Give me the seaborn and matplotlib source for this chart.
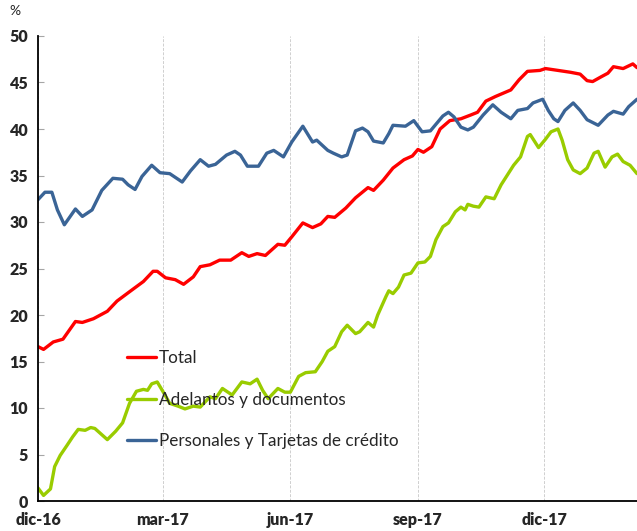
import pandas as pd
import numpy as np
import matplotlib
matplotlib.use("Agg")
import matplotlib.pyplot as plt
import seaborn as sns

# Series: days since 01-dic-2016 and values (%)
start = pd.Timestamp("2016-12-01")

total_days = [0, 4, 11, 18, 27, 32, 40, 50, 57, 66, 76, 83, 86, 92, 99, 105, 112, 117, 124, 131,
              139, 147, 152, 158, 164, 173, 178, 183, 191, 198, 204, 209, 214, 222, 229, 238, 242, 249, 256, 264,
              270, 274, 278, 284, 290, 297, 305, 312, 317, 323, 330, 341, 347, 353, 362, 366, 375, 384, 391, 396,
              400, 406, 411, 415, 422, 429, 432]
total_vals = [16.6, 16.3, 17.1, 17.4, 19.3, 19.2, 19.6, 20.4, 21.5, 22.5, 23.6, 24.7, 24.7, 24.0, 23.8, 23.3, 24.1, 25.2, 25.4, 25.9,
              25.9, 26.7, 26.3, 26.6, 26.4, 27.6, 27.5, 28.4, 29.9, 29.4, 29.8, 30.6, 30.5, 31.5, 32.6, 33.7, 33.4, 34.5, 35.8, 36.7,
              37.1, 37.8, 37.5, 38.1, 40.0, 40.9, 41.1, 41.5, 41.8, 43.0, 43.5, 44.2, 45.3, 46.2, 46.3, 46.5, 46.3, 46.1, 45.9, 45.2,
              45.1, 45.6, 46.0, 46.7, 46.5, 47.0, 46.6]

adel_days = [0, 4, 9, 12, 16, 21, 25, 29, 34, 38, 41, 50, 56, 61, 66, 71, 76, 79, 82, 86,
             90, 95, 101, 106, 112, 117, 124, 128, 133, 140, 147, 153, 158, 162, 166, 173, 178, 182, 188, 193,
             200, 205, 209, 214, 219, 223, 229, 232, 238, 242, 245, 251, 253, 256, 260, 264, 269, 274, 279, 283,
             287, 292, 296, 301, 305, 308, 310, 314, 318, 323, 329, 334, 343, 348, 353, 355, 361, 366, 370, 375,
             378, 382, 386, 391, 396, 401, 404, 409, 414, 418, 422, 427, 432]
adel_vals = [1.4, 0.6, 1.3, 3.7, 4.9, 6.0, 6.9, 7.7, 7.6, 7.9, 7.8, 6.6, 7.5, 8.4, 10.5, 11.8, 12.0, 11.9, 12.6, 12.8,
             11.8, 10.5, 10.2, 9.9, 10.2, 10.1, 11.2, 11.0, 12.1, 11.4, 12.8, 12.6, 13.1, 11.9, 11.0, 12.1, 11.7, 11.7, 13.4, 13.8,
             13.9, 15.0, 16.1, 16.6, 18.2, 18.9, 18.0, 18.2, 19.2, 18.7, 20.0, 22.0, 22.6, 22.3, 23.0, 24.3, 24.5, 25.6, 25.7, 26.3,
             28.1, 29.5, 29.9, 31.1, 31.6, 31.3, 31.9, 31.7, 31.6, 32.7, 32.5, 34.0, 36.1, 37.0, 39.2, 39.4, 38.0, 38.9, 39.7, 40.0,
             38.8, 36.7, 35.6, 35.2, 35.8, 37.4, 37.6, 35.9, 37.0, 37.3, 36.5, 36.1, 35.2]

pers_days = [0, 5, 10, 14, 19, 27, 32, 39, 46, 54, 61, 65, 70, 75, 82, 88, 95, 104, 110, 117,
             123, 128, 136, 142, 146, 151, 159, 165, 170, 177, 183, 191, 198, 201, 209, 213, 219, 223, 229, 234,
             238, 242, 249, 253, 256, 265, 271, 277, 283, 292, 296, 300, 305, 310, 314, 321, 328, 334, 341, 346,
             353, 357, 364, 368, 372, 375, 380, 386, 391, 396, 404, 411, 415, 422, 426, 432]
pers_vals = [32.4, 33.2, 33.2, 31.3, 29.7, 31.4, 30.6, 31.3, 33.4, 34.7, 34.6, 34.0, 33.5, 34.9, 36.1, 35.3, 35.2, 34.3, 35.5, 36.7,
             36.0, 36.2, 37.2, 37.6, 37.2, 36.0, 36.0, 37.4, 37.7, 37.0, 38.6, 40.3, 38.6, 38.8, 37.7, 37.4, 37.0, 37.2, 39.8, 40.1,
             39.7, 38.7, 38.5, 39.5, 40.4, 40.3, 40.9, 39.7, 39.8, 41.4, 41.8, 41.3, 40.2, 39.9, 40.2, 41.5, 42.6, 41.8, 41.1, 42.0,
             42.2, 42.8, 43.2, 42.0, 41.1, 40.8, 42.0, 42.8, 42.0, 41.0, 40.4, 41.5, 41.9, 41.6, 42.4, 43.2]

tick_dates = ["2016-12-01", "2017-03-01", "2017-06-01", "2017-09-01", "2017-12-01"]
tick_labels = ["dic-16", "mar-17", "jun-17", "sep-17", "dic-17"]


def to_frame(days, vals):
    return pd.DataFrame({"fecha": start + pd.to_timedelta(days, unit="D"), "valor": vals})


sns.set_style("ticks")
plt.rcParams["font.family"] = ["Lato", "DejaVu Sans"]

fig = plt.figure(figsize=(6.37, 5.31), dpi=100)
ax = fig.add_axes([38 / 637, 30 / 531, 1 - 38 / 637, 465 / 531])

series = [
    (total_days, total_vals, "Total", "#FF0000"),
    (adel_days, adel_vals, "Adelantos y documentos", "#99CC00"),
    (pers_days, pers_vals, "Personales y Tarjetas de crédito", "#3A6496"),
]
for days, vals, name, col in series:
    sns.lineplot(data=to_frame(days, vals), x="fecha", y="valor", color=col,
                 linewidth=2.4, label=name, ax=ax)

ax.set_xlim(start, start + pd.Timedelta(days=432))
ax.set_ylim(0, 50)
ax.set_yticks(range(0, 51, 5))
ax.set_xticks(pd.to_datetime(tick_dates))
ax.set_xticklabels(tick_labels)
ax.set_xlabel("")
ax.set_ylabel("")

for lbl in ax.get_xticklabels() + ax.get_yticklabels():
    lbl.set_fontweight("heavy")
    lbl.set_fontsize(11.5)
ax.tick_params(axis="x", length=0, pad=8)
ax.tick_params(axis="y", direction="in", length=4, color="#A6A6A6", pad=7)

ax.grid(axis="x", color="#CFCFCF", linestyle=(0, (3, 1.5)), linewidth=0.7)
ax.set_axisbelow(True)
sns.despine(ax=ax)
for sp in ["left", "bottom"]:
    ax.spines[sp].set_color("black")
    ax.spines[sp].set_linewidth(1.3)

fig.text(15 / 637, 1 - 11 / 531, "%", fontsize=10, ha="center", va="center")

ax.legend(loc="upper left", bbox_to_anchor=(127 / 637, 1 - 350 / 531),
          bbox_transform=fig.transFigure, frameon=False, fontsize=12.3,
          borderpad=0, borderaxespad=0, handlelength=1.7, handletextpad=0.15,
          labelspacing=1.5)

fig.savefig("out.png", dpi=100)
